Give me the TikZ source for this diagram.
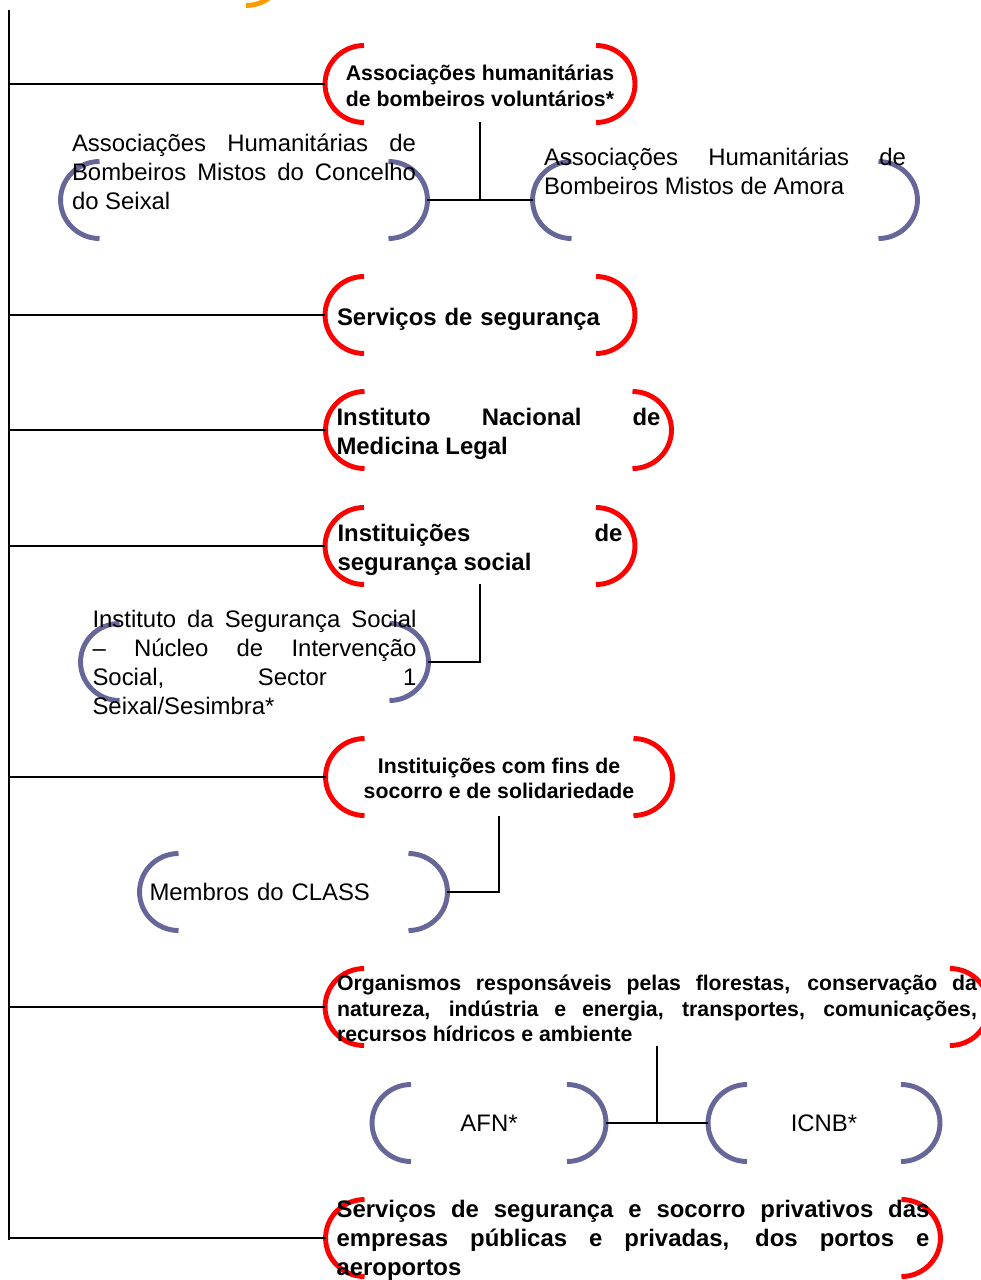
\documentclass[tikz,border=0pt]{standalone}
\usepackage{fontspec}
\setmainfont{Liberation Sans}
\usepackage{xcolor}
\usepackage{tikz}
\usetikzlibrary{backgrounds}
\definecolor{brkred}{RGB}{255,0,0}
\definecolor{brkblue}{RGB}{102,102,153}
\definecolor{brkorange}{RGB}{255,153,0}
\tolerance=10000
\hbadness=10000
\hyphenpenalty=10000
\newcommand{\brackets}[2]{%
  \draw[bracket, #2] ([xshift=0.78cm]#1.north west) arc[start angle=90, end angle=270, x radius=0.78cm, y radius=0.77cm];
  \draw[bracket, #2] ([xshift=-0.78cm]#1.north east) arc[start angle=90, end angle=-90, x radius=0.78cm, y radius=0.77cm];
}

\begin{document}
\begin{tikzpicture}[
    x=0.02cm, y=0.02cm,
    brackbox/.style={minimum width=#1, minimum height=1.54cm, inner sep=0pt, outer sep=0pt},
    bracket/.style={line width=2.8pt},
    link/.style={line width=1pt, black},
    redtxt/.style={font=\bfseries\fontsize{13.6}{16.5}\selectfont, inner sep=0pt, yshift=-0.08cm},
    redsmall/.style={font=\bfseries\fontsize{12.1}{14.6}\selectfont, inner sep=0pt, yshift=-0.03cm},
    bluetxt/.style={font=\fontsize{13.6}{16.5}\selectfont, inner sep=0pt}
]
    \useasboundingbox (0,0) rectangle (980,-1280);

    % Main groups (red)
    \node[brackbox=6.2cm, label={[redsmall, align=center]center:{Associações humanitárias\\de bombeiros voluntários*}}] (voluntarios) at (480,-84) {};
    \node[brackbox=6.2cm, label={[redtxt, text width=5.72cm, align=left]center:{Serviços de segurança}}] (seguranca) at (480,-315) {};
    \node[brackbox=6.92cm, label={[redtxt, text width=6.48cm, align=justify]center:{Instituto Nacional de\linebreak Medicina Legal}}] (medicina) at (498.5,-430) {};
    \node[brackbox=6.2cm, label={[redtxt, text width=5.7cm, align=justify]center:{Instituições de\linebreak segurança social}}] (social) at (480,-546) {};
    \node[brackbox=6.94cm, label={[redsmall, align=center]center:{Instituições com fins de\\socorro e de solidariedade}}] (socorro) at (499,-777) {};
    \node[brackbox=13.28cm, label={[redsmall, text width=12.8cm, align=justify]center:{Organismos responsáveis pelas florestas, conservação da\linebreak natureza, indústria e energia, transportes, comunicações,\linebreak recursos hídricos e ambiente}}] (organismos) at (657,-1007) {};
    \node[brackbox=12.3cm, label={[redtxt, text width=11.86cm, align=justify, yshift=0.04cm]center:{Serviços de segurança e socorro privativos das\linebreak empresas públicas e privadas, dos portos e\linebreak aeroportos}}] (privativos) at (633,-1238) {};

    % Members (blue)
    \node[brackbox=7.34cm, label={[bluetxt, text width=6.88cm, align=justify, yshift=0.57cm]center:{Associações Humanitárias de\linebreak Bombeiros Mistos do Concelho\linebreak do Seixal}}] (seixal) at (244,-200) {};
    \node[brackbox=7.7cm, label={[bluetxt, text width=7.24cm, align=justify, yshift=0.57cm]center:{Associações Humanitárias de\linebreak Bombeiros Mistos de Amora}}] (amora) at (725,-200) {};
    \node[brackbox=6.96cm, label={[bluetxt, text width=6.48cm, align=justify]center:{Instituto da Segurança Social\linebreak – Núcleo de Intervenção\linebreak Social, Sector 1\linebreak Seixal/Sesimbra*}}] (isss) at (254.5,-662) {};
    \node[brackbox=6.16cm, label={[bluetxt, text width=5.76cm, align=left]center:{Membros do CLASS}}] (class) at (293.5,-892) {};
    \node[brackbox=4.68cm, label={[bluetxt]center:{AFN*}}] (afn) at (489,-1123) {};
    \node[brackbox=4.64cm, label={[bluetxt]center:{ICNB*}}] (icnb) at (824,-1123) {};

    % Spine and branches
    \coordinate (spinetop) at (9,-10);
    \coordinate (spinebottom) at (9,-1240);
    \draw[link] (spinetop) -- (spinebottom);
    \foreach \n in {voluntarios,seguranca,medicina,social,socorro,organismos,privativos}
        \draw[link] (\n.west) -- (\n.west -| spinetop);

    % Sub-branches
    \draw[link] (voluntarios.south) -- (voluntarios.south |- seixal.east);
    \draw[link] (seixal.east) -- (amora.west);
    \draw[link] (social.south) |- (isss.east);
    \draw[link] (socorro.south) |- (class.east);
    \draw[link] (organismos.south) -- (organismos.south |- afn.east);
    \draw[link] (afn.east) -- (icnb.west);

    % Brackets behind the texts
    \begin{scope}[on background layer]
        \foreach \n in {voluntarios,seguranca,medicina,social,socorro,organismos,privativos}
            {\brackets{\n}{brkred}}
        \foreach \n in {seixal,amora,isss,class,afn,icnb}
            {\brackets{\n}{brkblue}}
        \draw[bracket, brkorange] (246,-5.5) arc[start angle=-90, end angle=0, x radius=0.78cm, y radius=0.77cm];
    \end{scope}
\end{tikzpicture}
\end{document}
